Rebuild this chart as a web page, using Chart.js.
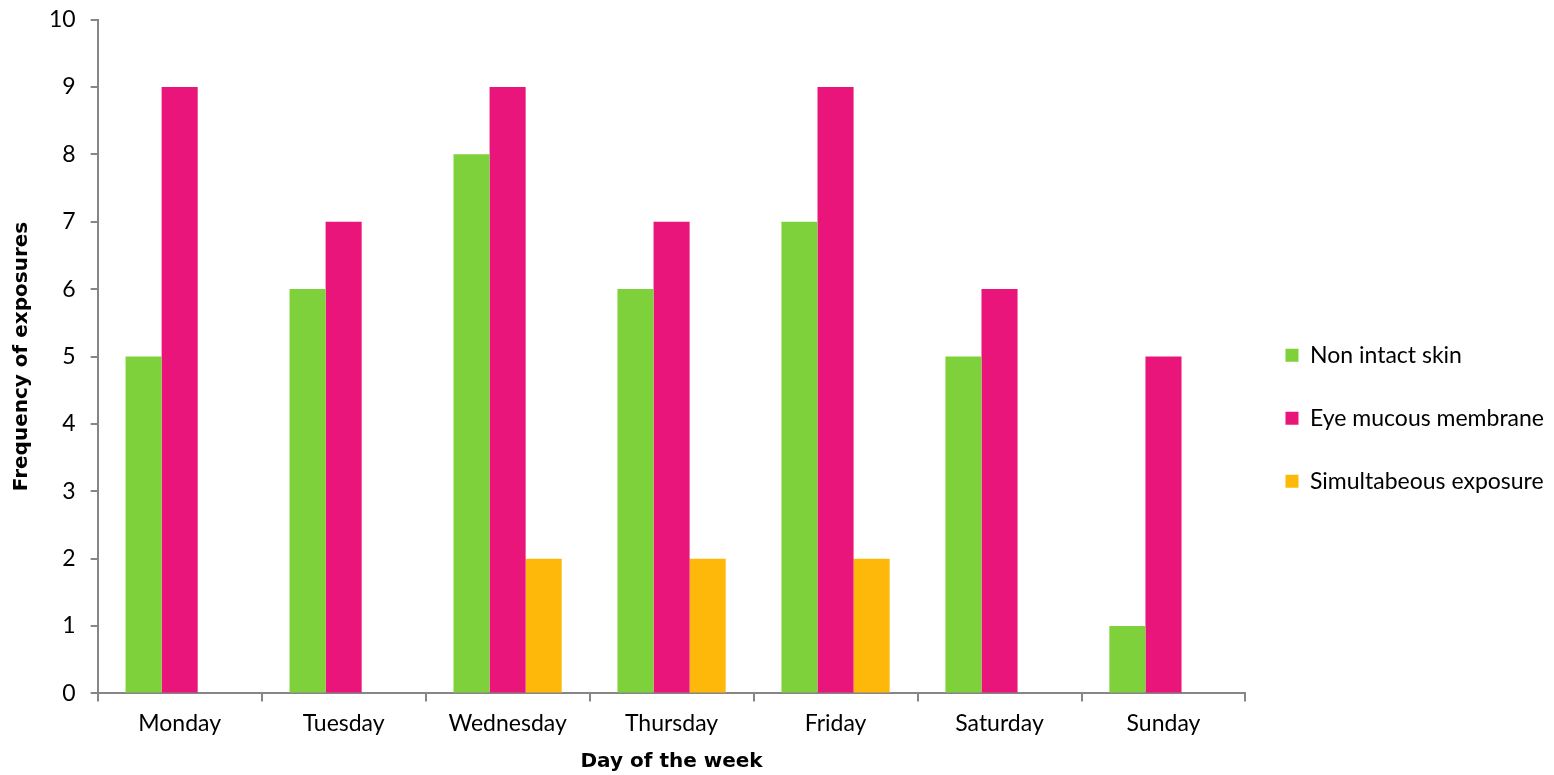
<!DOCTYPE html>
<html>
<head>
<meta charset="utf-8">
<script src="https://cdn.jsdelivr.net/npm/chart.js@4/dist/chart.umd.min.js"></script>
<style>
  html, body { margin: 0; padding: 0; background: #ffffff; }
  #wrap { width: 1554px; height: 775px; }
</style>
</head>
<body>
<div id="wrap"><canvas id="chart" width="1554" height="775"></canvas></div>
<script>
// Exposures per weekday, by exposure type
const days = ['Monday', 'Tuesday', 'Wednesday', 'Thursday', 'Friday', 'Saturday', 'Sunday'];
const nonIntactSkin = [5, 6, 8, 6, 7, 5, 1];
const eyeMucousMembrane = [9, 7, 9, 7, 9, 6, 5];
const simultaneousExposure = [0, 0, 2, 2, 2, 0, 0];
const yTicks = [0, 1, 2, 3, 4, 5, 6, 7, 8, 9, 10];

const AXIS_GREY = '#868686';
const tickFont = { family: 'Lato, "Open Sans", sans-serif', size: 23 };
const yTickFont = { family: 'Lato, "Open Sans", sans-serif', size: 23, lineHeight: 0.4 };
const titleFont = { family: '"DejaVu Sans", Verdana, sans-serif', size: 20, weight: 'bold' };

new Chart(document.getElementById('chart'), {
  type: 'bar',
  data: {
    labels: days,
    datasets: [
      { label: 'Non intact skin', data: nonIntactSkin, backgroundColor: '#7FD13B' },
      { label: 'Eye mucous membrane', data: eyeMucousMembrane, backgroundColor: '#EA157A' },
      { label: 'Simultabeous exposure', data: simultaneousExposure, backgroundColor: '#FEB80A' }
    ]
  },
  options: {
    responsive: false,
    animation: false,
    devicePixelRatio: 1,
    layout: { padding: { left: 10, top: 0, right: 0, bottom: 1 } },
    datasets: { bar: { categoryPercentage: 0.66, barPercentage: 1.0, borderWidth: 0 } },
    plugins: {
      tooltip: { enabled: false },
      legend: {
        position: 'right',
        title: { display: true, text: ' ', font: { size: 12 }, padding: { top: 48, bottom: 0 } },
        labels: {
          color: '#000',
          font: { family: 'Lato, "Open Sans", sans-serif', size: 23 },
          boxWidth: 13,
          boxHeight: 13,
          padding: 40
        }
      }
    },
    scales: {
      x: {
        grid: {
          display: true,
          drawOnChartArea: false,
          drawTicks: true,
          tickLength: 8,
          color: AXIS_GREY,
          lineWidth: 2,
          offset: true
        },
        border: { display: true, color: AXIS_GREY, width: 2 },
        ticks: { color: '#000', font: tickFont, padding: 8 },
        title: {
          display: true,
          text: 'Day of the week',
          color: '#000',
          font: titleFont,
          padding: { top: 5, bottom: 0 }
        }
      },
      y: {
        min: 0,
        max: 10,
        afterBuildTicks: (axis) => { axis.ticks = yTicks.map(v => ({ value: v })); },
        grid: {
          display: true,
          drawOnChartArea: false,
          drawTicks: true,
          tickLength: 7,
          color: AXIS_GREY,
          lineWidth: 2
        },
        border: { display: true, color: AXIS_GREY, width: 2 },
        ticks: { color: '#000', font: yTickFont, padding: 15 },
        title: {
          display: true,
          text: 'Frequency of exposures',
          color: '#000',
          font: titleFont,
          padding: { top: 0, bottom: 0 }
        }
      }
    }
  }
});
</script>
</body>
</html>
